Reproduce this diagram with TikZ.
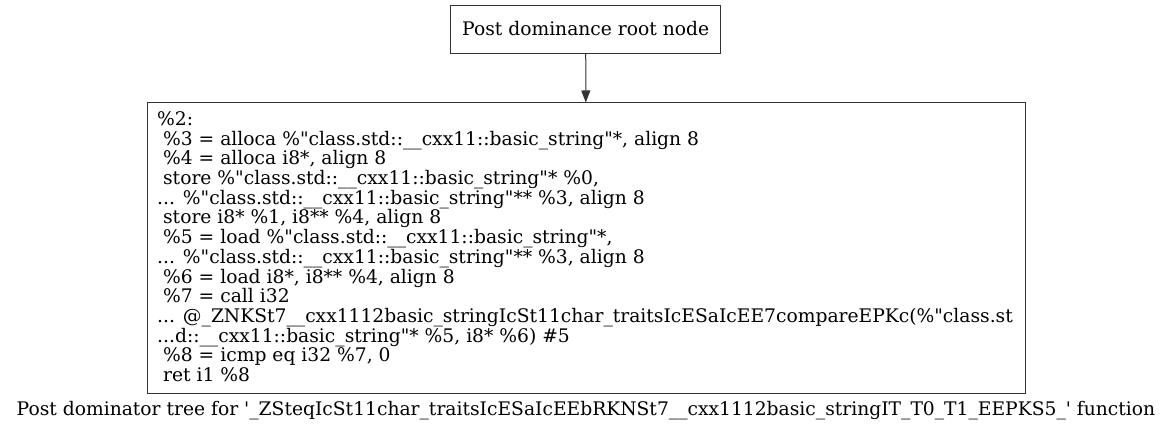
\documentclass[tikz,border=0pt]{standalone}
\usepackage{fontspec}
\newfontfamily\gv{DejaVu Serif}
\usetikzlibrary{arrows.meta}
\tikzset{
  gvbox/.style={draw=black!80, line width=1pt, inner sep=0pt},
  gvtext/.style={font=\gv\fontsize{18.7}{19.7}\selectfont, inner sep=0pt},
  gvedge/.style={draw=black!80, line width=1pt, -{Triangle[length=12pt,width=9pt]}}
}
\begin{document}
\begin{tikzpicture}[x=1pt,y=1pt]
\useasboundingbox (0,0) rectangle (1172,431);
\node[gvbox, minimum width=270pt, minimum height=48.3pt] (root) at (585.7,401.8) {};
\node[gvtext, anchor=base] (roottext) at (585.7,395.5) {Post dominance root node};
\node[gvbox, minimum width=878pt, minimum height=290.5pt] (blk) at (586,182.75) {};
\node[gvtext, anchor=base west] (blktext) at (157,305.5) {\vtop{\baselineskip=19.7pt\lineskiplimit=-20pt\lineskip=0pt
\hbox{\%2:}
\hbox{\ \%3 = alloca \%"class.std::\_\_cxx11::basic\_string"*, align 8}
\hbox{\ \%4 = alloca i8*, align 8}
\hbox{\ store \%"class.std::\_\_cxx11::basic\_string"* \%0,}
\hbox{... \%"class.std::\_\_cxx11::basic\_string"** \%3, align 8}
\hbox{\ store i8* \%1, i8** \%4, align 8}
\hbox{\ \%5 = load \%"class.std::\_\_cxx11::basic\_string"*,}
\hbox{... \%"class.std::\_\_cxx11::basic\_string"** \%3, align 8}
\hbox{\ \%6 = load i8*, i8** \%4, align 8}
\hbox{\ \%7 = call i32}
\hbox{... @\_ZNKSt7\_\_cxx1112basic\_stringIcSt11char\_traitsIcESaIcEE7compareEPKc(\%"class.st}
\hbox{...d::\_\_cxx11::basic\_string"* \%5, i8* \%6) \#5}
\hbox{\ \%8 = icmp eq i32 \%7, 0}
\hbox{\ ret i1 \%8}}};
\draw[gvedge] (root) -- (blk);
\node[gvtext, anchor=base] (cap) at (586,16) {Post dominator tree for '\_ZSteqIcSt11char\_traitsIcESaIcEEbRKNSt7\_\_cxx1112basic\_stringIT\_T0\_T1\_EEPKS5\_' function};
\end{tikzpicture}
\end{document}
